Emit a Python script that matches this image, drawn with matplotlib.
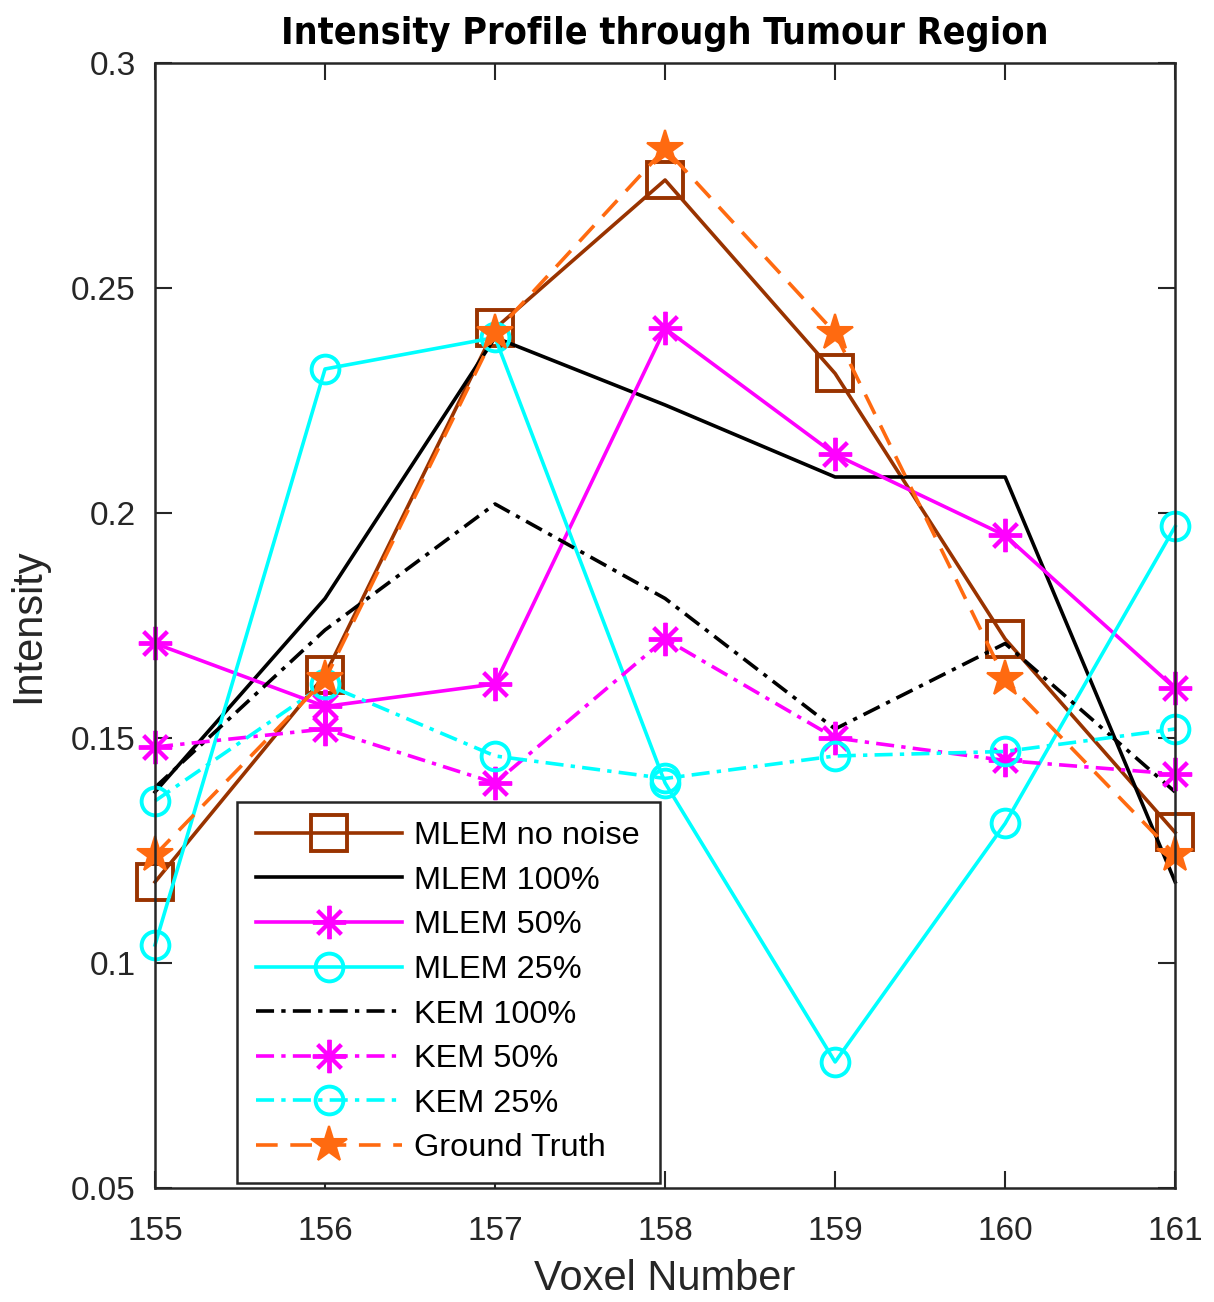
import numpy as np
import matplotlib
matplotlib.use("Agg")
import matplotlib.pyplot as plt

plt.rcParams['font.family'] = ['Liberation Sans', 'DejaVu Sans']

# Données
voxels = [155, 156, 157, 158, 159, 160, 161]
mlem_no_noise = [0.118, 0.164, 0.241, 0.274, 0.231, 0.172, 0.129]
mlem_100 = [0.138, 0.181, 0.239, 0.224, 0.208, 0.208, 0.118]
mlem_50 = [0.171, 0.157, 0.162, 0.241, 0.213, 0.195, 0.161]
mlem_25 = [0.104, 0.232, 0.239, 0.140, 0.078, 0.131, 0.197]
kem_100 = [0.139, 0.174, 0.202, 0.181, 0.152, 0.171, 0.138]
kem_50 = [0.148, 0.152, 0.140, 0.172, 0.150, 0.145, 0.142]
kem_25 = [0.136, 0.162, 0.146, 0.141, 0.146, 0.147, 0.152]
ground_truth = [0.124, 0.163, 0.240, 0.281, 0.240, 0.163, 0.124]

brun = "#993300"
orange = "#ff6a10"
magenta = "#ff00ff"
cyan = "#00ffff"
tiret_point = (0, (5, 2, 1.2, 2))
asterisque = (8, 2, 0)

fig = plt.figure(figsize=(12.14, 13.02), dpi=100)
ax = fig.add_axes([0.1277, 0.0876, 0.8403, 0.864])

lw = 2.6
ax.plot(voxels, mlem_no_noise, color=brun, lw=lw, marker='s', ms=26,
        mfc='none', mew=2.8, label="MLEM no noise", clip_on=False)
ax.plot(voxels, mlem_100, color='black', lw=lw, label="MLEM 100%", clip_on=False)
ax.plot(voxels, mlem_50, color=magenta, lw=lw, marker=asterisque, ms=24,
        mew=2.8, label="MLEM 50%", clip_on=False)
ax.plot(voxels, mlem_25, color=cyan, lw=lw, marker='o', ms=20, mfc='none',
        mew=2.8, label="MLEM 25%", clip_on=False)
ax.plot(voxels, kem_100, color='black', lw=lw, ls=tiret_point, label="KEM 100%", clip_on=False)
ax.plot(voxels, kem_50, color=magenta, lw=lw, ls=tiret_point, marker=asterisque,
        ms=24, mew=2.8, label="KEM 50%", clip_on=False)
ax.plot(voxels, kem_25, color=cyan, lw=lw, ls=tiret_point, marker='o', ms=20,
        mfc='none', mew=2.8, label="KEM 25%", clip_on=False)
ax.plot(voxels, ground_truth, color=orange, lw=lw, ls=(0, (6, 3.5)), marker='*',
        ms=27, mfc=orange, mew=1.5, label="Ground Truth", clip_on=False)

ax.set_xlim(155, 161)
ax.set_ylim(0.05, 0.3)
ax.set_xticks(voxels)
ax.set_yticks([0.05, 0.1, 0.15, 0.2, 0.25, 0.3])
ax.set_yticklabels(["0.05", "0.1", "0.15", "0.2", "0.25", "0.3"])
ax.tick_params(direction='in', length=12, width=1.5, labelsize=24,
               top=True, right=True, colors='#262626', labelcolor='#262626')
ax.tick_params(axis='x', pad=20)
ax.tick_params(axis='y', pad=14)
for s in ax.spines.values():
    s.set_linewidth(1.8)
    s.set_color('#262626')

ax.set_xlabel("Voxel Number", fontsize=30, color='#262626', labelpad=9)
ax.set_ylabel("Intensity", fontsize=30, color='#262626', labelpad=16)
ax.set_title("Intensity Profile through Tumour Region", fontsize=27,
             fontweight='bold', family=['DejaVu Sans'], fontstretch='condensed',
             pad=14)

leg = ax.legend(loc='lower left', bbox_to_anchor=(0.080, 0.0044), fontsize=23.4,
                handlelength=4.5, borderpad=0.6, labelspacing=0.45,
                borderaxespad=0, fancybox=False, framealpha=1,
                edgecolor='#262626', handletextpad=0.37)
leg.get_frame().set_linewidth(1.8)

fig.savefig("out.png", dpi=100)
